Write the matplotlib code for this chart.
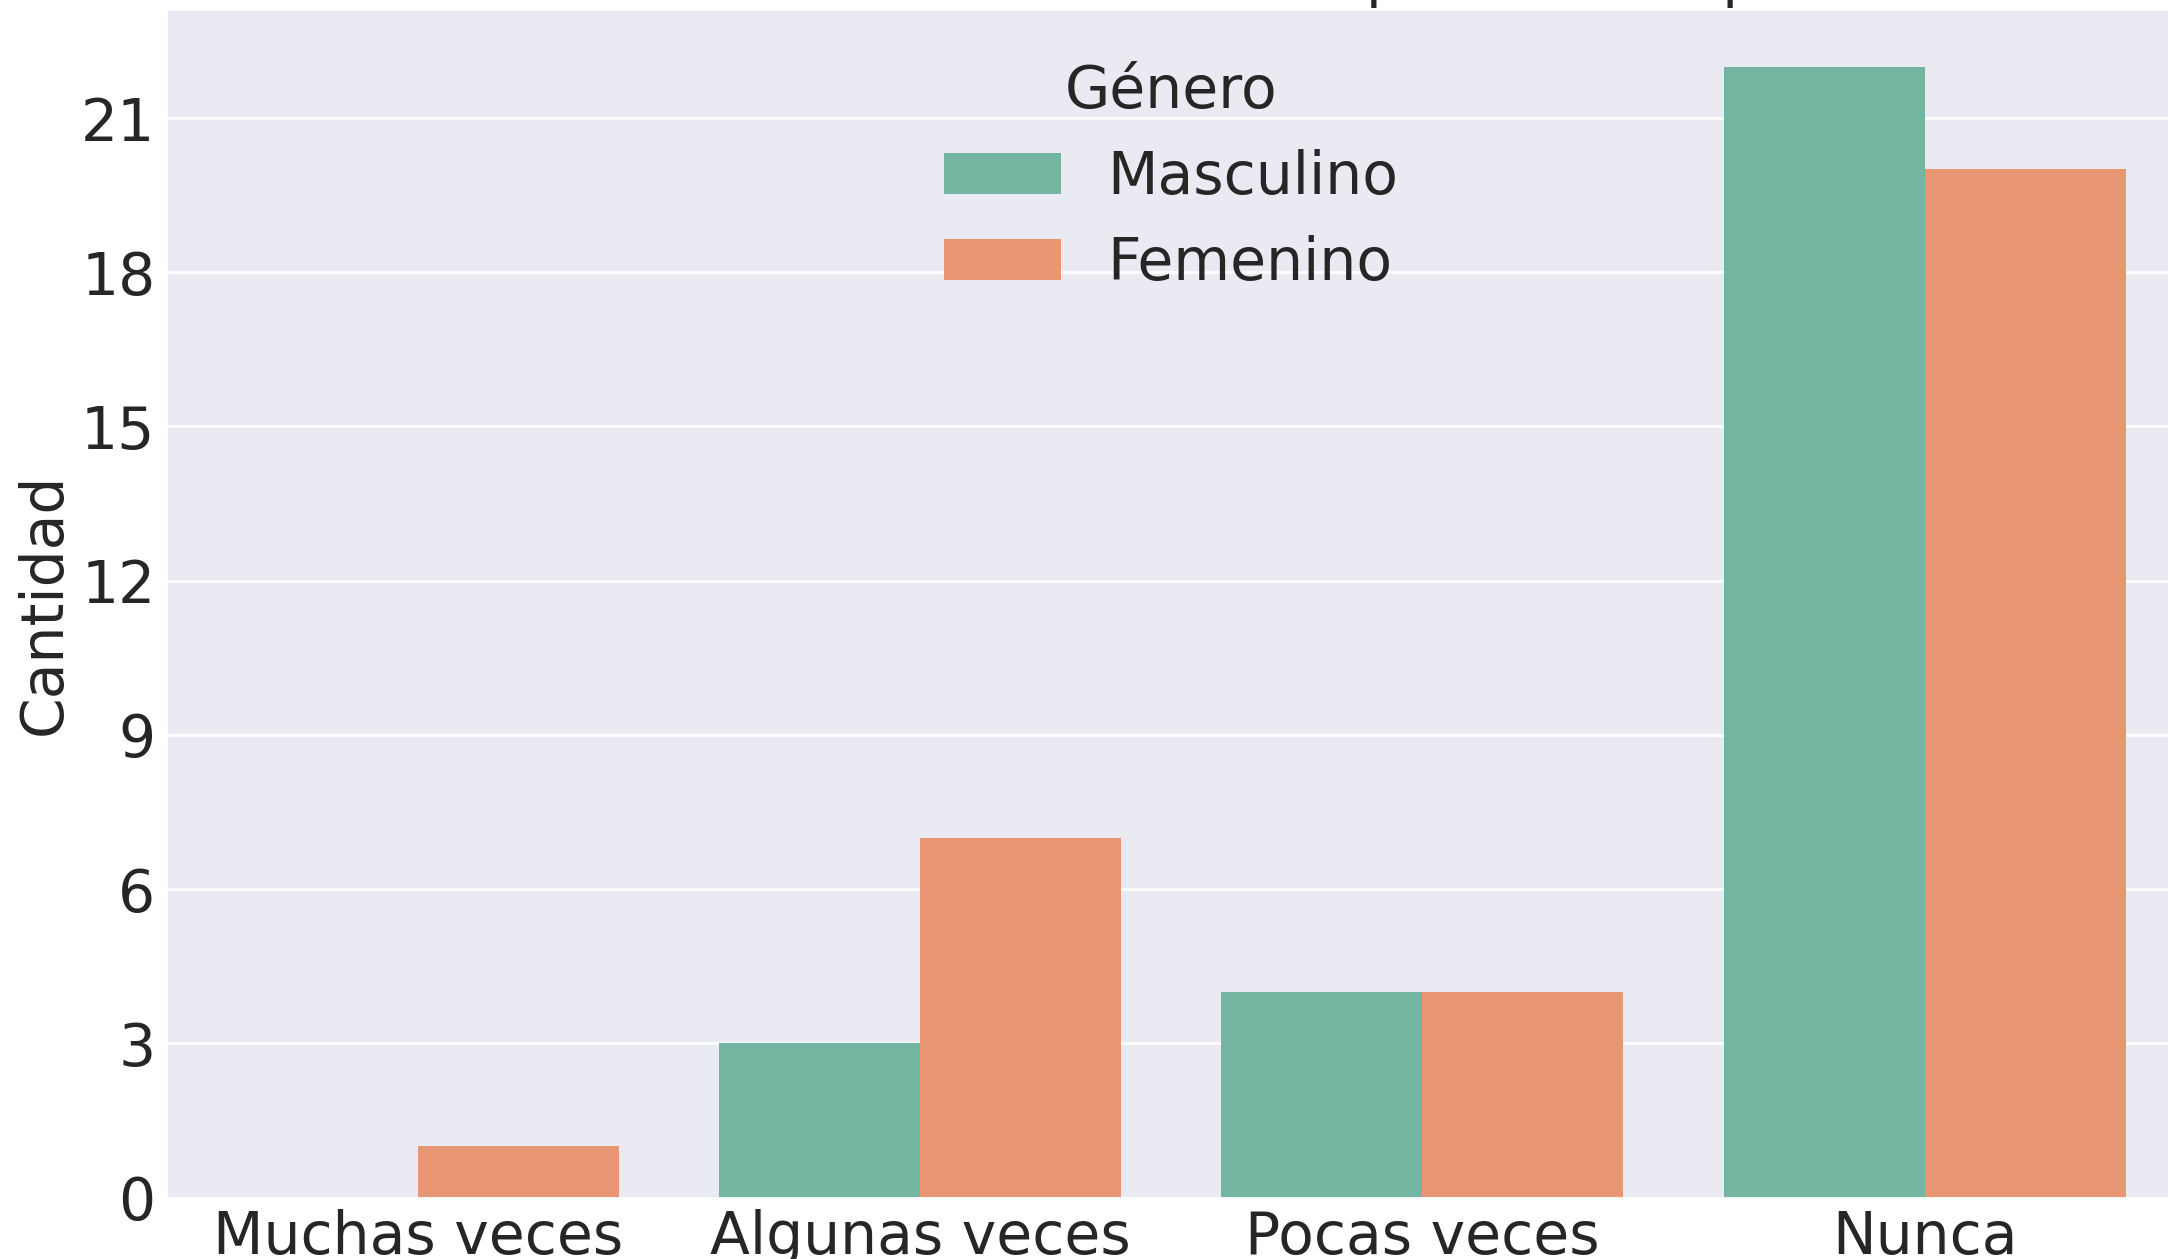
import colorsys
import matplotlib
matplotlib.use("Agg")
import matplotlib.pyplot as plt
import matplotlib.colors as mcolors
import numpy as np
import seaborn as sns

categorias = ["Muchas veces", "Algunas veces", "Pocas veces", "Nunca"]
masculino = [0, 3, 4, 22]
femenino = [1, 7, 4, 20]
generos = ["Masculino", "Femenino"]
yticks = [0, 3, 6, 9, 12, 15, 18, 21]
titulo = "Se ha sentido excluido por sus compañeros"


def desaturar(color, prop=0.75):
    # same thing seaborn does to bar colours
    r, g, b = mcolors.to_rgb(color)
    h, l, s = colorsys.rgb_to_hls(r, g, b)
    return colorsys.hls_to_rgb(h, l, s * prop)


sns.set_theme(style="darkgrid")
fs = 42
plt.rcParams["font.family"] = ["DejaVu Sans"]

colores = [desaturar(c) for c in sns.color_palette("Set2", 2)]

fig = plt.figure(figsize=(21.68, 12.59), dpi=100)
ax = fig.add_axes([0.0768, 0.0488, 0.9268, 0.9432])

x = np.arange(len(categorias))
ancho = 0.4
ax.bar(x - ancho / 2, masculino, width=ancho, color=colores[0], label=generos[0], linewidth=0)
ax.bar(x + ancho / 2, femenino, width=ancho, color=colores[1], label=generos[1], linewidth=0)

ax.set_xlim(-0.5, 3.5)
ax.set_ylim(0, 23.1)
ax.set_xticks(x)
ax.set_xticklabels(categorias, fontsize=fs, color="#262626")
ax.set_yticks(yticks)
ax.set_yticklabels([str(v) for v in yticks], fontsize=fs, color="#262626")
ax.tick_params(axis="both", length=0, pad=8)
ax.xaxis.grid(False)
ax.yaxis.grid(True, color="white", linewidth=2)
ax.set_axisbelow(True)
ax.set_ylabel("Cantidad", fontsize=fs, color="#262626", labelpad=6)

leg = ax.legend(title="Género", loc="upper center", fontsize=fs,
                title_fontsize=fs, frameon=False)
for t in leg.get_texts():
    t.set_color("#262626")
leg.get_title().set_color("#262626")

# title sits above the canvas, only the descenders show
fig.text(0.61, 1 + 4 / 1259, titulo, fontsize=fs, ha="center", va="baseline", color="#262626")

fig.savefig("out.png", dpi=100)
plt.close(fig)
